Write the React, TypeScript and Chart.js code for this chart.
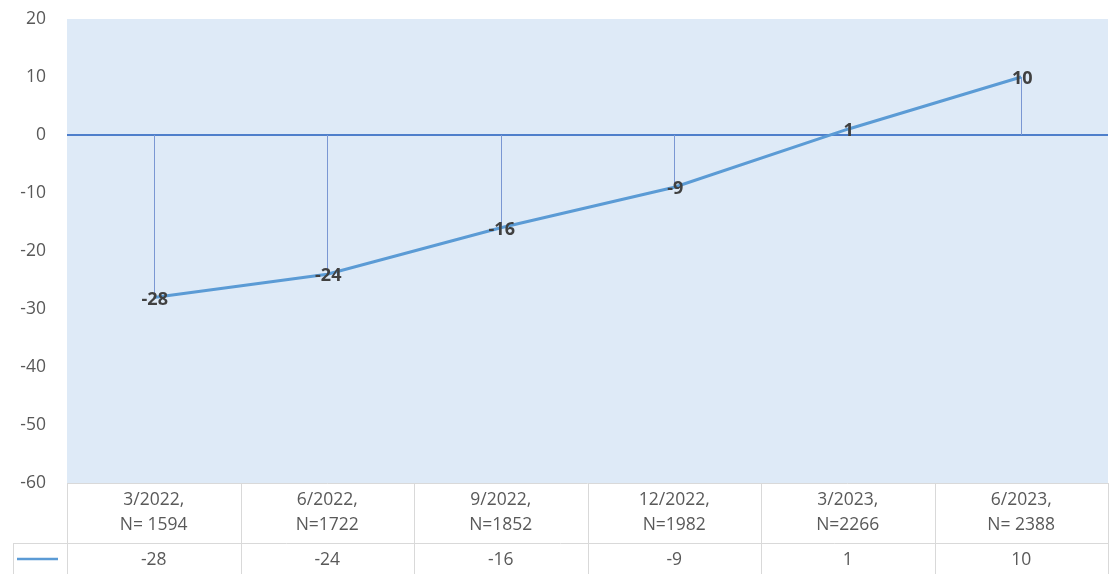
import React, { useEffect, useRef } from "react";
import { Chart, registerables } from "chart.js";

Chart.register(...registerables);

const periods = ["3/2022,", "6/2022,", "9/2022,", "12/2022,", "3/2023,", "6/2023,"];
const sampleSizes = ["N= 1594", "N=1722", "N=1852", "N=1982", "N=2266", "N= 2388"];
const values = [-28, -24, -16, -9, 1, 10];
const yMin = -60;
const yMax = 20;
const yStep = 10;

const FONT = "'Open Sans', 'Noto Sans', sans-serif";
const LINE_COLOR = "#5B9BD5";
const TEXT_COLOR = "#595959";
const GRID_COLOR = "#D9D9D9";

const extrasPlugin = {
  id: "extras",
  beforeDraw(chart: any) {
    const { ctx, chartArea } = chart;
    ctx.save();
    ctx.fillStyle = "#DEEAF7";
    ctx.fillRect(chartArea.left, chartArea.top, chartArea.right - chartArea.left, chartArea.bottom - chartArea.top);
    ctx.restore();
  },
  beforeDatasetsDraw(chart: any) {
    const { ctx } = chart;
    const x = chart.scales.x;
    const y = chart.scales.y;
    const y0 = y.getPixelForValue(0);
    ctx.save();
    ctx.strokeStyle = "#7A97D3";
    ctx.lineWidth = 1;
    values.forEach((v, i) => {
      const px = Math.round(x.getPixelForValue(i)) + 0.5;
      ctx.beginPath();
      ctx.moveTo(px, y0);
      ctx.lineTo(px, y.getPixelForValue(v));
      ctx.stroke();
    });
    ctx.restore();
  },
  afterDatasetsDraw(chart: any) {
    const { ctx, chartArea, height } = chart;
    const x = chart.scales.x;
    const y = chart.scales.y;
    ctx.save();
    // data labels
    ctx.font = `bold 18px ${FONT}`;
    ctx.fillStyle = "#404040";
    ctx.textAlign = "center";
    ctx.textBaseline = "middle";
    values.forEach((v, i) => {
      ctx.fillText(String(v), x.getPixelForValue(i) + 1, y.getPixelForValue(v) + 2);
    });

    // data table
    const left = chartArea.left;
    const right = chartArea.right;
    const top = chartArea.bottom;
    const row1Bottom = top + 60;
    const bottom = height;
    const keyLeft = 13;
    const n = periods.length;
    const colW = (right - left) / n;

    ctx.strokeStyle = GRID_COLOR;
    ctx.lineWidth = 1;
    ctx.beginPath();
    ctx.moveTo(left, top + 0.5);
    ctx.lineTo(right, top + 0.5);
    ctx.moveTo(keyLeft, row1Bottom + 0.5);
    ctx.lineTo(right, row1Bottom + 0.5);
    for (let i = 0; i <= n; i++) {
      const px = Math.round(left + colW * i) + 0.5;
      ctx.moveTo(px, top);
      ctx.lineTo(px, bottom);
    }
    ctx.moveTo(keyLeft + 0.5, row1Bottom);
    ctx.lineTo(keyLeft + 0.5, bottom);
    ctx.stroke();

    ctx.font = `17.5px ${FONT}`;
    ctx.fillStyle = TEXT_COLOR;
    ctx.textAlign = "center";
    ctx.textBaseline = "middle";
    for (let i = 0; i < n; i++) {
      const cx = x.getPixelForValue(i);
      ctx.fillText(periods[i], cx, top + 17);
      ctx.fillText(sampleSizes[i], cx, top + 42);
      ctx.fillText(String(values[i]), cx, row1Bottom + 17);
    }

    // legend key
    ctx.strokeStyle = LINE_COLOR;
    ctx.lineWidth = 2.5;
    ctx.beginPath();
    ctx.moveTo(17, row1Bottom + 16);
    ctx.lineTo(58, row1Bottom + 16);
    ctx.stroke();
    ctx.restore();
  },
};

export default function App() {
  const canvasRef = useRef<HTMLCanvasElement | null>(null);

  useEffect(() => {
    document.body.style.margin = "0";
    const canvas = canvasRef.current;
    if (!canvas) return;
    const chart = new Chart(canvas, {
      type: "line",
      data: {
        labels: periods.map((p, i) => [p, sampleSizes[i]]),
        datasets: [
          {
            data: values,
            borderColor: LINE_COLOR,
            borderWidth: 3,
            pointRadius: 0,
            tension: 0,
            fill: false,
          },
        ],
      },
      options: {
        responsive: false,
        animation: false,
        devicePixelRatio: 1,
        layout: { padding: { top: 19, right: 4, bottom: 91, left: 0 } },
        plugins: {
          legend: { display: false },
          tooltip: { enabled: false },
        },
        scales: {
          x: {
            display: false,
            offset: true,
            grid: { display: false },
          },
          y: {
            min: yMin,
            max: yMax,
            border: { display: false },
            grid: {
              drawTicks: false,
              color: (c: any) => (c.tick && c.tick.value === 0 ? "#4E7FCB" : "rgba(0,0,0,0)"),
              lineWidth: (c: any) => (c.tick && c.tick.value === 0 ? 2 : 0),
            },
            ticks: {
              stepSize: yStep,
              padding: 21,
              color: TEXT_COLOR,
              font: { family: FONT, size: 17.5 },
            },
            afterFit: (scale: any) => {
              scale.width = 67;
              scale.paddingTop = 0;
              scale.paddingBottom = 0;
            },
          },
        },
      },
      plugins: [extrasPlugin],
    });
    return () => chart.destroy();
  }, []);

  return (
    <div style={{ width: 1112, height: 574 }}>
      <canvas ref={canvasRef} width={1112} height={574} />
    </div>
  );
}
